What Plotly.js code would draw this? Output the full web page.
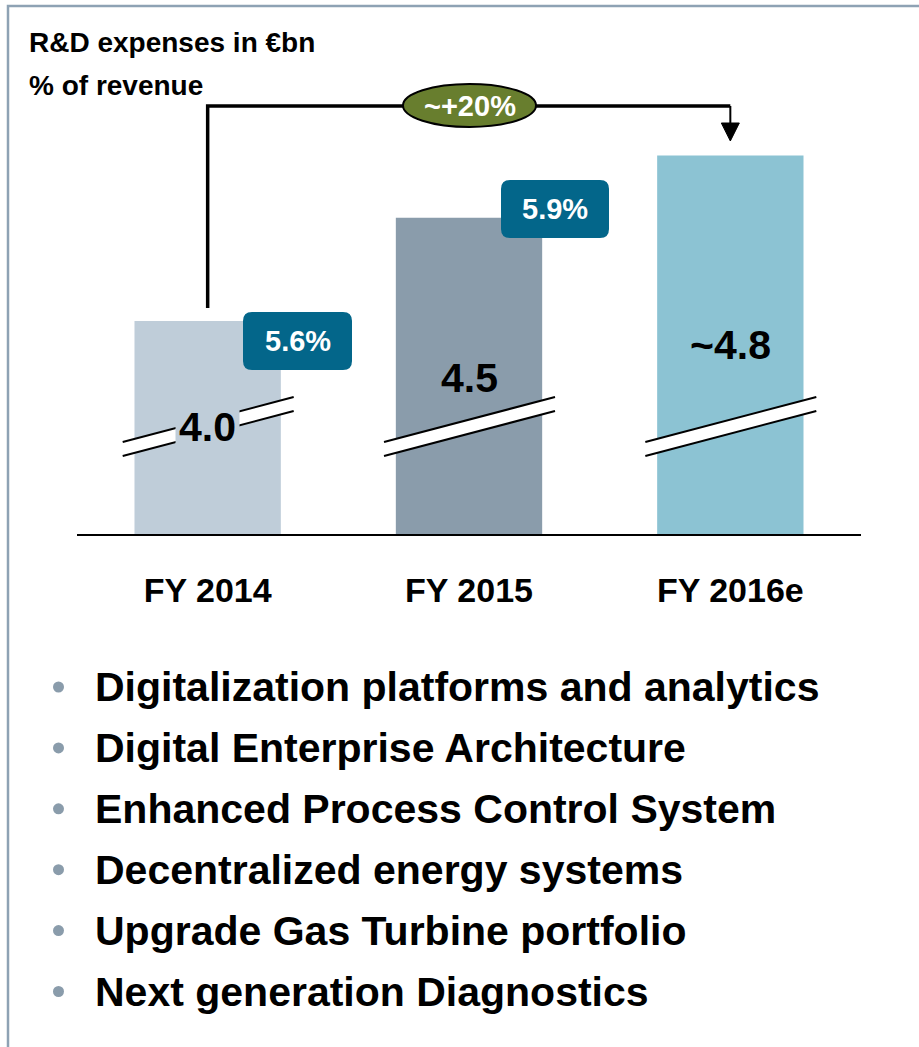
<!DOCTYPE html>
<html><head><meta charset="utf-8">
<script src="https://cdn.plot.ly/plotly-3.0.1.min.js"></script>
<style>html,body{margin:0;padding:0;background:#fff;}</style>
</head><body><div id="chart" style="width:919px;height:1047px;"></div>
<script>
// ---- data ----
const categories = ['FY 2014', 'FY 2015', 'FY 2016e'];
const rdExpenses = [4.0, 4.5, 4.8];          // € bn
const valueLabels = ['4.0', '4.5', '~4.8'];
const pctOfRevenue = ['5.6%', '5.9%'];
const growthLabel = '~+20%';
const titleLines = ['R&D expenses in €bn', '% of revenue'];
const bulletItems = [
  'Digitalization platforms and analytics',
  'Digital Enterprise Architecture',
  'Enhanced Process Control System',
  'Decentralized energy systems',
  'Upgrade Gas Turbine portfolio',
  'Next generation Diagnostics'
];
const barColors = ['#bfcdd9', '#8a9cab', '#8cc3d3'];

// ---- geometry helpers (pixel -> paper) ----
const W = 919, H = 1047, L = 77, R = 58, T = 100, B = 513;
const PW = W - L - R, PH = H - T - B;
const px = x => (x - L) / PW;
const py = y => (H - B - y) / PH;
const FONT = 'Liberation Sans, Arial, Helvetica, sans-serif';
const catX = i => L + PW * (i + 0.5) / categories.length;

const shapes = [];
const annotations = [];

// frame border
shapes.push({type: 'path', xref: 'paper', yref: 'paper', layer: 'below',
  path: `M${px(8)},${py(1060)} L${px(8)},${py(6)} L${px(930)},${py(6)}`,
  line: {color: '#8ea2b4', width: 2.5}});

// titles
const titleY = [42, 85];
titleLines.forEach((t, i) => annotations.push({xref: 'paper', yref: 'paper',
  x: px(27), y: py(titleY[i]), xanchor: 'left', yanchor: 'middle', showarrow: false,
  text: '<b>' + t + '</b>', font: {family: FONT, size: 28, color: '#000'}}));

// connector line with arrow
const x1 = catX(0), x3 = catX(2);
shapes.push({type: 'path', xref: 'paper', yref: 'paper', layer: 'above',
  path: `M${px(x1)},${py(308)} L${px(x1)},${py(106)} L${px(x3)},${py(106)}`,
  line: {color: '#000', width: 3.5}});
shapes.push({type: 'path', xref: 'paper', yref: 'paper', layer: 'above',
  path: `M${px(x3)},${py(106)} L${px(x3)},${py(125)}`,
  line: {color: '#000', width: 2}});
shapes.push({type: 'path', xref: 'paper', yref: 'paper', layer: 'above',
  path: `M${px(x3 - 9)},${py(123)} L${px(x3 + 9)},${py(123)} L${px(x3)},${py(141)} Z`,
  fillcolor: '#000', line: {color: '#000', width: 1}});
// growth oval
shapes.push({type: 'circle', xref: 'paper', yref: 'paper', layer: 'above',
  x0: px(403), x1: px(536), y0: py(127), y1: py(84),
  fillcolor: '#687e2e', line: {color: '#000', width: 2}});
annotations.push({xref: 'paper', yref: 'paper', x: px(469.5), y: py(106),
  xanchor: 'center', yanchor: 'middle', showarrow: false,
  text: '<b>' + growthLabel + '</b>', font: {family: FONT, size: 29, color: '#fff'}});

// axis break marks
categories.forEach((c, i) => {
  const cx = catX(i), l = cx - 85, r = cx + 86;
  shapes.push({type: 'path', xref: 'paper', yref: 'paper', layer: 'above',
    path: `M${px(l)},${py(442)} L${px(r)},${py(397)} L${px(r)},${py(411)} L${px(l)},${py(456)} Z`,
    fillcolor: '#fff', line: {width: 0}});
  [[442, 397], [456, 411]].forEach(([a, b]) => shapes.push({type: 'line',
    xref: 'paper', yref: 'paper', layer: 'above',
    x0: px(l), y0: py(a), x1: px(r), y1: py(b), line: {color: '#000', width: 2}}));
});

// value labels
const valueY = [427, 378, 345];
valueLabels.forEach((t, i) => annotations.push({xref: 'x', yref: 'paper',
  x: categories[i], y: py(valueY[i]), xanchor: 'center', yanchor: 'middle', showarrow: false,
  text: '<b>' + t + '</b>', font: {family: FONT, size: 41, color: '#000'},
  bgcolor: i === 0 ? barColors[0] : 'rgba(0,0,0,0)', borderpad: 3}));

// % of revenue boxes (rounded)
const pctBoxes = [[243, 312, 352, 370], [501, 180, 609, 238]];
function rounded(x0, y0, x1, y1, r) {
  return `M${px(x0 + r)},${py(y0)} L${px(x1 - r)},${py(y0)} Q${px(x1)},${py(y0)} ${px(x1)},${py(y0 + r)} ` +
    `L${px(x1)},${py(y1 - r)} Q${px(x1)},${py(y1)} ${px(x1 - r)},${py(y1)} ` +
    `L${px(x0 + r)},${py(y1)} Q${px(x0)},${py(y1)} ${px(x0)},${py(y1 - r)} ` +
    `L${px(x0)},${py(y0 + r)} Q${px(x0)},${py(y0)} ${px(x0 + r)},${py(y0)} Z`;
}
pctOfRevenue.forEach((t, i) => {
  const [a, b, c, d] = pctBoxes[i];
  shapes.push({type: 'path', xref: 'paper', yref: 'paper', layer: 'above',
    path: rounded(a, b, c, d, 9), fillcolor: '#03668a', line: {width: 0}});
  annotations.push({xref: 'paper', yref: 'paper', x: px((a + c) / 2), y: py((b + d) / 2),
    xanchor: 'center', yanchor: 'middle', showarrow: false,
    text: '<b>' + t + '</b>', font: {family: FONT, size: 29, color: '#fff'}});
});

// bullet list
bulletItems.forEach((t, i) => {
  const y = 687 + i * 60.9;
  shapes.push({type: 'circle', xref: 'paper', yref: 'paper', layer: 'above',
    x0: px(53), x1: px(64), y0: py(y + 5.5), y1: py(y - 5.5),
    fillcolor: '#8a9cab', line: {width: 0}});
  annotations.push({xref: 'paper', yref: 'paper', x: px(93), y: py(y),
    xanchor: 'left', yanchor: 'middle', showarrow: false,
    text: '<b>' + t + '</b>', font: {family: FONT, size: 41, color: '#000'}});
});

const trace = {
  type: 'bar', x: categories, y: rdExpenses,
  marker: {color: barColors, line: {width: 0}},
  width: 0.56, hoverinfo: 'skip', cliponaxis: true
};

const layout = {
  width: W, height: H,
  margin: {l: L, r: R, t: T, b: B},
  paper_bgcolor: '#fff', plot_bgcolor: '#fff',
  showlegend: false,
  xaxis: {type: 'category', range: [-0.5, 2.5], showline: true, linecolor: '#000', linewidth: 2,
    ticks: '', showgrid: false, zeroline: false, fixedrange: true,
    tickvals: categories, ticktext: categories.map(c => '<b>' + c + '</b>'),
    tickfont: {family: FONT, size: 34, color: '#000'}, ticklabelstandoff: 25},
  yaxis: {range: [2.97, 5.069], visible: false, showgrid: false, zeroline: false, fixedrange: true},
  shapes: shapes, annotations: annotations
};

Plotly.newPlot('chart', [trace], layout, {displayModeBar: false, staticPlot: true});
</script>
</body></html>
